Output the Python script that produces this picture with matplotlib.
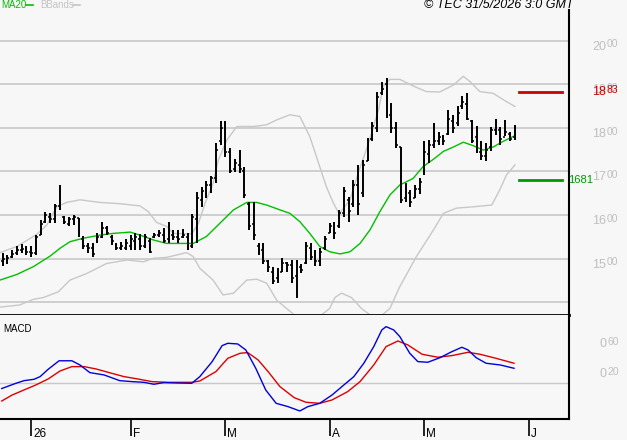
import numpy as np
import matplotlib
matplotlib.use("Agg")
import matplotlib.pyplot as plt
import matplotlib.transforms as mtransforms

# ---- daily OHLC bars (price in EUR), late Dec 2025 -> end of May 2026 ----
highs = [15.12, 15.09, 15.19, 15.29, 15.33, 15.29, 15.28, 15.54, 15.89, 16.08,
         16.04, 16.26, 16.69, 15.98, 15.96, 16.00, 15.93, 15.51, 15.37, 15.35,
         15.58, 15.83, 15.76, 15.54, 15.35, 15.39, 15.45, 15.54, 15.60, 15.57,
         15.57, 15.47, 15.58, 15.66, 15.70, 15.83, 15.66, 15.66, 15.67, 15.60,
         16.03, 16.54, 16.65, 16.77, 16.90, 17.65, 18.16, 18.16, 17.53, 17.29,
         17.49, 17.11, 16.31, 16.31, 15.35, 15.37, 14.97, 14.80, 14.78, 15.01,
         14.93, 14.96, 14.96, 14.89, 15.39, 15.37, 15.20, 15.24, 15.51, 15.81,
         15.85, 16.12, 16.65, 16.42, 16.81, 17.15, 17.26, 17.76, 18.14, 18.83,
         19.04, 19.14, 18.56, 18.14, 17.57, 16.74, 16.58, 16.69, 16.84, 17.69,
         17.71, 18.11, 17.91, 17.84, 18.41, 18.30, 18.50, 18.73, 18.79, 18.18,
         18.04, 17.69, 17.66, 18.03, 18.20, 18.03, 18.17, 17.91, 18.07]
lows = [14.83, 14.88, 15.01, 15.09, 15.14, 15.09, 15.05, 15.09, 15.54, 15.81,
        15.81, 15.81, 16.12, 15.80, 15.76, 15.77, 15.49, 15.22, 15.14, 15.03,
        15.37, 15.47, 15.54, 15.32, 15.20, 15.20, 15.20, 15.20, 15.20, 15.20,
        15.24, 15.12, 15.47, 15.49, 15.35, 15.35, 15.43, 15.35, 15.47, 15.19,
        15.24, 15.35, 16.19, 16.39, 16.50, 16.73, 17.61, 17.33, 16.96, 16.98,
        16.97, 16.39, 15.66, 15.43, 15.09, 14.89, 14.70, 14.42, 14.45, 14.70,
        14.70, 14.44, 14.11, 14.67, 14.89, 14.97, 14.83, 14.83, 15.20, 15.58,
        15.45, 15.70, 15.96, 15.85, 16.19, 16.00, 16.42, 17.23, 17.69, 17.91,
        18.76, 18.22, 17.88, 17.53, 16.27, 16.31, 16.19, 16.39, 16.48, 16.92,
        17.19, 17.53, 17.61, 17.61, 17.84, 17.89, 18.04, 18.43, 18.18, 17.65,
        17.42, 17.26, 17.23, 17.46, 17.84, 17.61, 17.82, 17.69, 17.72]
opens = [14.95, 14.95, 15.05, 15.12, 15.20, 15.20, 15.15, 15.12, 15.55, 15.85,
         15.95, 15.90, 16.20, 15.95, 15.80, 15.90, 15.93, 15.45, 15.30, 15.25,
         15.40, 15.50, 15.70, 15.50, 15.30, 15.25, 15.25, 15.30, 15.40, 15.45,
         15.30, 15.40, 15.50, 15.55, 15.55, 15.45, 15.55, 15.50, 15.50, 15.50,
         15.30, 15.90, 16.35, 16.50, 16.70, 16.85, 17.70, 18.05, 17.45, 17.05,
         17.15, 17.00, 16.25, 15.80, 15.30, 15.20, 14.95, 14.70, 14.55, 14.70,
         14.90, 14.85, 14.60, 14.80, 14.90, 15.25, 15.05, 14.95, 15.25, 15.60,
         15.70, 15.75, 16.05, 16.35, 16.25, 16.70, 16.50, 17.25, 17.75, 18.00,
         18.80, 19.00, 18.30, 18.00, 17.55, 16.40, 16.50, 16.40, 16.60, 16.95,
         17.40, 17.60, 17.70, 17.75, 17.85, 18.15, 18.10, 18.50, 18.55, 18.15,
         17.80, 17.45, 17.35, 17.55, 17.95, 17.95, 17.80, 17.85, 17.80]
closes = [15.00, 15.02, 15.10, 15.20, 15.22, 15.15, 15.12, 15.50, 15.80, 16.00,
          15.90, 16.20, 16.15, 15.85, 15.90, 15.95, 15.52, 15.30, 15.25, 15.10,
          15.50, 15.70, 15.60, 15.40, 15.25, 15.30, 15.35, 15.45, 15.50, 15.30,
          15.50, 15.15, 15.55, 15.60, 15.40, 15.60, 15.50, 15.45, 15.55, 15.25,
          15.95, 16.40, 16.55, 16.70, 16.85, 17.50, 18.00, 17.45, 17.00, 17.20,
          17.05, 16.45, 15.75, 15.55, 15.15, 14.95, 14.80, 14.50, 14.60, 14.90,
          14.85, 14.55, 14.90, 14.75, 15.30, 15.05, 14.95, 15.15, 15.45, 15.75,
          15.60, 16.05, 16.55, 16.10, 16.70, 16.25, 17.15, 17.60, 18.05, 18.70,
          18.90, 18.30, 18.00, 17.60, 16.35, 16.60, 16.30, 16.60, 16.75, 17.45,
          17.60, 17.70, 17.80, 17.70, 18.20, 18.00, 18.35, 18.60, 18.20, 17.70,
          17.50, 17.35, 17.50, 17.95, 18.00, 17.75, 17.90, 17.75, 18.00]

# MA20 (sampled along the bars)
ma_idx = [-0.6, 3.0, 6.5, 10.0, 12.1, 14.2, 17.0, 20.5, 23.3, 26.9, 29.0, 31.8,
          34.6, 38.1, 40.2, 43.0, 45.8, 48.7, 51.5, 53.6, 55.7, 58.5, 60.6, 62.7,
          64.8, 66.9, 69.0, 71.2, 73.3, 75.4, 77.5, 79.6, 81.7, 83.8, 86.6, 88.7,
          90.9, 93.0, 95.1, 97.2, 99.3, 101.4, 103.5, 105.6, 108.1]
ma_val = [14.51, 14.64, 14.82, 15.06, 15.24, 15.39, 15.47, 15.54, 15.58, 15.61,
          15.54, 15.43, 15.35, 15.35, 15.35, 15.51, 15.81, 16.12, 16.29, 16.29,
          16.23, 16.12, 16.04, 15.85, 15.58, 15.28, 15.16, 15.11, 15.16, 15.35,
          15.66, 16.08, 16.46, 16.69, 16.84, 17.11, 17.28, 17.46, 17.56, 17.67,
          17.59, 17.49, 17.56, 17.69, 17.82]

# Bollinger bands
bb_up_idx = [-0.6, 3.0, 7.2, 9.3, 11.4, 13.5, 16.3, 20.5, 24.8, 29.0, 30.7, 32.5,
             34.6, 36.0, 39.9, 41.3, 42.7, 44.4, 45.5, 47.3, 49.4, 52.9, 55.7,
             57.8, 60.6, 62.7, 64.8, 66.9, 68.3, 69.8, 71.0, 73.3, 75.0, 77.2,
             79.3, 80.3, 81.7, 83.8, 86.6, 89.4, 92.2, 95.1, 97.2, 98.6, 100.7,
             103.5, 106.3, 108.1]
bb_up = [15.14, 15.28, 15.56, 15.77, 16.19, 16.29, 16.35, 16.29, 16.26, 16.21,
         16.08, 15.83, 15.74, 15.58, 15.57, 15.81, 16.27, 16.73, 17.26, 17.72,
         18.03, 18.03, 18.07, 18.18, 18.30, 18.26, 17.80, 17.11, 16.65, 16.27,
         16.03, 16.35, 16.96, 17.65, 18.41, 18.95, 19.11, 19.11, 18.96, 18.83,
         18.82, 18.98, 19.18, 19.06, 18.83, 18.79, 18.60, 18.49]
bb_lo_idx = [-0.6, 3.6, 6.5, 8.6, 11.7, 14.2, 17.7, 21.9, 26.2, 29.7, 31.8, 34.6,
             38.8, 40.2, 41.6, 44.4, 46.5, 48.7, 51.5, 53.6, 55.7, 57.8, 59.9,
             62.0, 64.8, 69.0, 70.1, 71.5, 73.6, 75.7, 78.9, 81.7, 83.8, 87.3,
             90.9, 93.0, 95.8, 99.3, 103.2, 104.9, 106.3, 108.1]
bb_lo = [13.89, 13.94, 14.07, 14.11, 14.24, 14.51, 14.66, 14.89, 14.97, 14.93,
         15.01, 15.03, 15.14, 15.05, 14.78, 14.51, 14.17, 14.21, 14.51, 14.53,
         14.44, 14.05, 13.86, 13.67, 13.50, 13.86, 14.11, 14.21, 14.11, 13.86,
         13.60, 13.86, 14.36, 15.05, 15.66, 16.04, 16.16, 16.19, 16.23, 16.58,
         16.92, 17.15]

# MACD and signal
macd_idx = [-0.2, 2.8, 4.5, 6.6, 7.9, 9.6, 11.9, 14.6, 16.3, 18.4, 21.4, 24.7,
            27.3, 29.8, 31.9, 34.0, 36.6, 39.9, 41.6, 44.2, 46.3, 47.5, 49.6,
            51.3, 53.4, 55.5, 57.7, 60.2, 62.7, 64.4, 66.9, 69.5, 72.0, 74.1,
            76.2, 78.3, 80.0, 80.9, 82.5, 83.8, 85.9, 87.6, 89.7, 92.3, 94.8,
            96.9, 98.2, 99.9, 102.0, 105.0, 107.9]
macd_val = [-0.07, 0.0, 0.035, 0.053, 0.089, 0.187, 0.30, 0.30, 0.244, 0.142,
            0.111, 0.035, 0.022, 0.013, -0.013, 0.009, 0.004, 0.0, 0.089, 0.289,
            0.502, 0.533, 0.524, 0.444, 0.20, -0.089, -0.267, -0.311, -0.369,
            -0.311, -0.267, -0.156, -0.022, 0.089, 0.267, 0.489, 0.711, 0.755,
            0.711, 0.622, 0.40, 0.289, 0.28, 0.342, 0.422, 0.48, 0.444, 0.342,
            0.267, 0.244, 0.20]
sig_idx = [-0.2, 2.0, 4.5, 7.0, 9.6, 12.1, 14.6, 17.2, 19.7, 22.2, 25.6, 28.9,
           31.5, 34.9, 40.0, 41.6, 45.0, 47.5, 50.1, 51.7, 53.9, 56.0, 58.5,
           61.5, 64.0, 66.9, 69.5, 72.8, 75.4, 78.3, 80.9, 83.4, 85.5, 88.5,
           91.8, 94.8, 98.2, 100.7, 104.1, 107.9]
sig_val = [-0.236, -0.156, -0.089, -0.022, 0.058, 0.164, 0.222, 0.222, 0.191,
           0.147, 0.089, 0.053, 0.022, 0.013, 0.013, 0.031, 0.156, 0.333, 0.40,
           0.409, 0.311, 0.156, -0.044, -0.191, -0.253, -0.267, -0.222, -0.111,
           0.022, 0.244, 0.489, 0.564, 0.511, 0.387, 0.347, 0.369, 0.413, 0.387,
           0.333, 0.267]

month_idx = [6, 27, 47, 69, 89, 111]
month_lbl = ["26", "F", "M", "A", "M", "J"]
price_ticks = [15, 16, 17, 18, 19, 20]
macd_ticks = [0.2, 0.6]
resistance = 18.83
support = 16.81

BG = "#f7f7f7"
GRID = "#c8c8c8"
LBL = "#bfbfbf"

W, H = 627, 440
plt.rcParams["font.family"] = ["Liberation Sans", "DejaVu Sans"]
fig = plt.figure(figsize=(W / 100, H / 100), dpi=100, facecolor=BG)


def box(x0, y0, x1, y1):
    # pixel box (top-left origin) -> figure fraction
    return [x0 / W, 1 - y1 / H, (x1 - x0) / W, (y1 - y0) / H]


ax = fig.add_axes(box(0, 10, 569, 315), facecolor=BG)
axm = fig.add_axes(box(0, 315, 569, 419), facecolor=BG, sharex=ax)

n = len(highs)
idx = np.arange(n)

# ---- price panel ----
for p in price_ticks + [14]:
    ax.axhline(p, color=GRID, lw=1.2, zorder=0)
ax.plot(bb_up_idx, bb_up, color="#c8c8c8", lw=1, zorder=1)
ax.plot(bb_lo_idx, bb_lo, color="#c8c8c8", lw=1, zorder=1)
ax.plot(ma_idx, ma_val, color="#00c000", lw=1, zorder=2)
ax.vlines(idx, lows, highs, color="black", lw=1.4, zorder=3)
ax.hlines(opens, idx - 0.4, idx, color="black", lw=1.1, zorder=3)
ax.hlines(closes, idx, idx + 0.4, color="black", lw=1.1, zorder=3)

ax.axhline(resistance, xmin=519 / 569, xmax=562 / 569, color="#cc0000", lw=2)
ax.axhline(support, xmin=519 / 569, xmax=562 / 569, color="#009900", lw=2)

ax.set_xlim(-0.57, 119.5)
ax.set_ylim(13.71, 20.70)
ax.set_xticks([])
ax.set_yticks([])
for s in ["top", "left"]:
    ax.spines[s].set_visible(False)
ax.spines["right"].set_linewidth(1.5)
ax.spines["bottom"].set_linewidth(2)

tr = mtransforms.blended_transform_factory(fig.transFigure, ax.transData)
trm = mtransforms.blended_transform_factory(fig.transFigure, axm.transData)


def dec_label(x_px, v, trans, color, va="top"):
    # integer part normal size, decimals smaller and top-aligned
    a, b = f"{v:.2f}".split(".")
    fig.text(x_px / W, v, a, transform=trans, color=color,
             fontsize=9, va=va, ha="left")
    off = mtransforms.offset_copy(trans, fig=fig, x=5.0 * len(a) + 0.2,
                                  y=0.9, units="points")
    fig.text(x_px / W, v, b, transform=off, color=color, fontsize=7.5,
             va=va, ha="left")


for p in price_ticks:
    dec_label(592, p, tr, LBL)
dec_label(592, resistance, tr, "#cc0000", va="center")
fig.text(568 / W, support, f"{support * 100:.0f}", transform=tr,
         color="#009900", fontsize=8, va="center", ha="left")

# legend + copyright
ly = 1 - 5 / H
fig.text(1 / W, ly, "MA20", color="#00c000", fontsize=7, va="center")
fig.add_artist(plt.Line2D([26 / W, 33 / W], [ly, ly], color="#00c000", lw=1.2))
fig.text(40 / W, ly, "BBands", color="#c4c4c4", fontsize=7, va="center")
fig.add_artist(plt.Line2D([73 / W, 80 / W], [ly, ly], color="#c4c4c4", lw=1.2))
fig.text(574 / W, ly, "© TEC 31/5/2026 3:0 GMT", color="black",
         fontsize=9, style="italic", va="center", ha="right")

# ---- MACD panel ----
axm.axhline(0, color=GRID, lw=1, zorder=0)
axm.plot(sig_idx, sig_val, color="#dd0000", lw=1)
axm.plot(macd_idx, macd_val, color="#0000dd", lw=1)
axm.set_ylim(-0.476, 0.91)
axm.set_yticks([])
axm.spines["left"].set_visible(False)
axm.spines["top"].set_visible(False)
axm.spines["right"].set_linewidth(1.5)
axm.spines["bottom"].set_linewidth(1.5)
axm.text(0.005, 0.87, "MACD", transform=axm.transAxes, fontsize=7,
         color="black", va="center")
for v in macd_ticks:
    dec_label(600, v, trm, LBL)

axm.set_xticks(month_idx)
axm.set_xticklabels([""] * len(month_idx))
axm.tick_params(axis="x", length=12, width=1.2, color="black", direction="out")
trx = mtransforms.blended_transform_factory(axm.transData, axm.transAxes)
for m, lbl in zip(month_idx, month_lbl):
    axm.text(m + 0.4, -0.085, lbl, transform=trx, fontsize=8.5, va="top",
             ha="left", color="black")

fig.savefig("out.png", dpi=100, facecolor=BG)
